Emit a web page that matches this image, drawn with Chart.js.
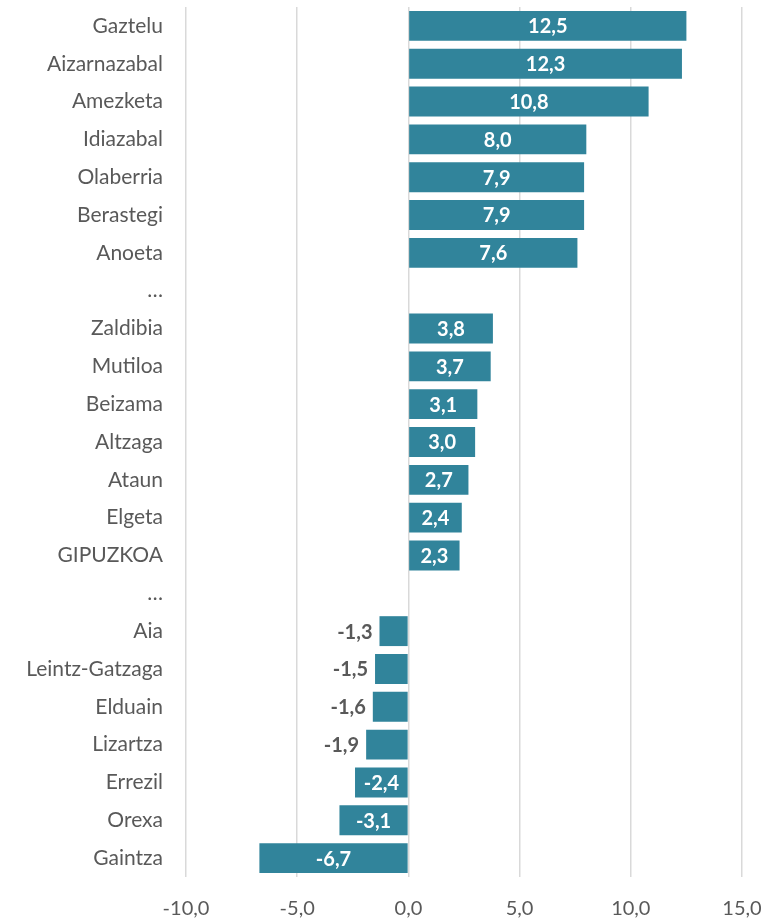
<!DOCTYPE html>
<html>
<head>
<meta charset="utf-8">
<script src="https://cdn.jsdelivr.net/npm/chart.js@4/dist/chart.umd.min.js"></script>
<style>
  html, body { margin: 0; padding: 0; background: #ffffff; }
  #wrap { width: 780px; height: 922px; position: relative; }
</style>
</head>
<body>
<div id="wrap"><canvas id="chart" width="780" height="922"></canvas></div>
<script>
// Municipalities, ordered by value (the "…" rows are intentional gaps)
const categories = [
  'Gaztelu', 'Aizarnazabal', 'Amezketa', 'Idiazabal', 'Olaberria', 'Berastegi', 'Anoeta',
  '…',
  'Zaldibia', 'Mutiloa', 'Beizama', 'Altzaga', 'Ataun', 'Elgeta', 'GIPUZKOA',
  '…',
  'Aia', 'Leintz-Gatzaga', 'Elduain', 'Lizartza', 'Errezil', 'Orexa', 'Gaintza'
];
const values = [
  12.5, 12.3, 10.8, 8.0, 7.9, 7.9, 7.6,
  null,
  3.8, 3.7, 3.1, 3.0, 2.7, 2.4, 2.3,
  null,
  -1.3, -1.5, -1.6, -1.9, -2.4, -3.1, -6.7
];
const xTicks = [-10, -5, 0, 5, 10, 15];

const FONT = 'Lato, "Noto Sans", sans-serif';
const BAR = '#31849B';
const TEXT = '#595959';

const fmt = v => v.toFixed(1).replace('.', ',');

// Value labels: inside the bar in white, or just left of short negative bars in grey
const valueLabels = {
  id: 'valueLabels',
  afterDatasetsDraw(chart) {
    const ctx = chart.ctx;
    const meta = chart.getDatasetMeta(0);
    ctx.save();
    ctx.font = 'bold 20px ' + FONT;
    ctx.textBaseline = 'middle';
    meta.data.forEach((bar, i) => {
      const v = values[i];
      if (v === null || v === undefined) return;
      const txt = fmt(v);
      const w = ctx.measureText(txt).width;
      const barW = Math.abs(bar.x - bar.base);
      if (w + 10 <= barW) {
        ctx.fillStyle = '#ffffff';
        ctx.textAlign = 'center';
        ctx.fillText(txt, (bar.x + bar.base) / 2, bar.y + 1);
      } else {
        ctx.fillStyle = TEXT;
        ctx.textAlign = 'right';
        ctx.fillText(txt, Math.min(bar.x, bar.base) - 7, bar.y + 1);
      }
    });
    ctx.restore();
  }
};

new Chart(document.getElementById('chart'), {
  type: 'bar',
  data: {
    labels: categories,
    datasets: [{
      data: values,
      backgroundColor: BAR,
      borderWidth: 0,
      barPercentage: 0.79,
      categoryPercentage: 1.0
    }]
  },
  options: {
    indexAxis: 'y',
    responsive: false,
    animation: false,
    layout: { padding: { left: 0, right: 38, top: 7, bottom: 0 } },
    plugins: { legend: { display: false }, tooltip: { enabled: false } },
    scales: {
      x: {
        min: xTicks[0],
        max: xTicks[xTicks.length - 1],
        afterBuildTicks(scale) { scale.ticks = xTicks.map(v => ({ value: v })); },
        afterFit(scale) {
          scale.height = 45;
          scale.paddingLeft = 0;
          scale.paddingRight = 0;
        },
        grid: { color: '#D9D9D9', lineWidth: 1.5, drawTicks: false },
        border: { display: false },
        ticks: {
          padding: 20,
          color: TEXT,
          font: { family: FONT, size: 20 },
          callback: v => fmt(v)
        }
      },
      y: {
        afterFit(scale) {
          scale.width = 186;
          scale.paddingTop = 0;
          scale.paddingBottom = 0;
        },
        grid: { display: false, drawTicks: false },
        border: { display: false },
        ticks: {
          padding: 23,
          color: TEXT,
          autoSkip: false,
          font: { family: FONT, size: 21 }
        }
      }
    }
  },
  plugins: [valueLabels]
});
</script>
</body>
</html>
